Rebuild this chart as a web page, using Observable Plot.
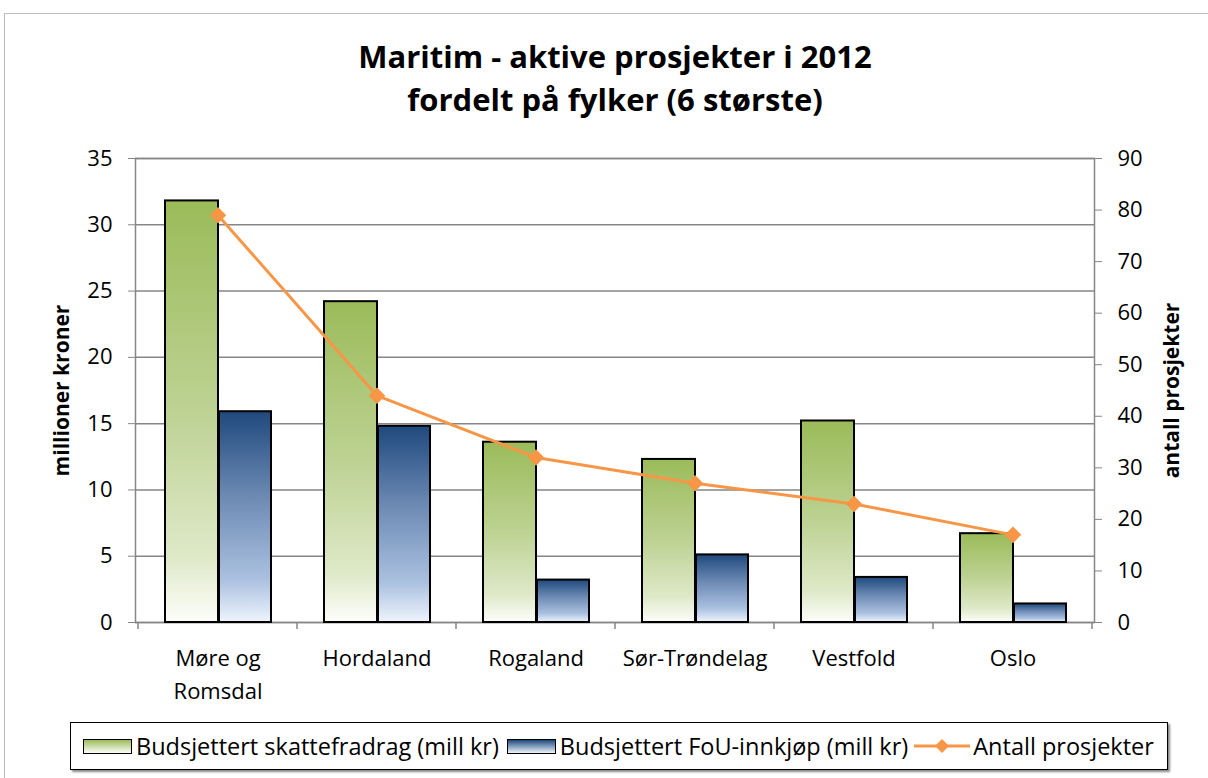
<!DOCTYPE html>
<html><head><meta charset="utf-8">
<script src="https://cdn.jsdelivr.net/npm/d3@7"></script>
<script src="https://cdn.jsdelivr.net/npm/@observablehq/plot@0.6"></script>
<style>
body{margin:0;background:#fff;font-family:"Open Sans",sans-serif;color:#000;width:1208px;height:778px;overflow:hidden;position:relative;}
#frame{position:absolute;left:4px;top:13px;width:1400px;height:1000px;border-left:1.5px solid #bcbcbc;border-top:1.5px solid #bcbcbc;}
#title{position:absolute;left:0;top:35px;width:1230px;text-align:center;font-weight:bold;font-size:31px;line-height:43px;}
#chart{position:absolute;left:0;top:140px;}
#legend{position:absolute;left:70px;top:722px;width:1096px;height:46px;border:1.5px solid #000;box-shadow:2px 2px 2px #888;display:flex;align-items:center;font-size:23.5px;white-space:nowrap;box-sizing:content-box;overflow:hidden;}
.sw{display:inline-block;width:47px;height:13px;border:1px solid #000;margin:0 4px 0 12px;}
.ln{display:inline-block;margin:0 3px 0 6px;}
</style>
</head><body>
<div id="frame"></div>
<div id="title">Maritim - aktive prosjekter i 2012<br>fordelt på fylker (6 største)</div>
<div id="chart"></div>
<div id="legend"></div>
<script>
const categories = ["Møre og Romsdal","Hordaland","Rogaland","Sør-Trøndelag","Vestfold","Oslo"];
const skattefradrag = [31.8,24.2,13.6,12.3,15.2,6.7];
const fouInnkjop = [15.9,14.8,3.2,5.1,3.4,1.4];
const antallProsjekter = [79,44,32,27,23,17];
const leftTicks = [0,5,10,15,20,25,30,35];
const rightTicks = [0,10,20,30,40,50,60,70,80,90];
const seriesNames = ["Budsjettert skattefradrag (mill kr)","Budsjettert FoU-innkjøp (mill kr)","Antall prosjekter"];
const leftLabel = "millioner kroner";
const rightLabel = "antall prosjekter";

const k = 35/90; // right axis (0–90) mapped on left axis (0–35)
const rows = categories.map((c,i)=>({c, s:skattefradrag[i], f:fouInnkjop[i], n:antallProsjekter[i]}));

const defs = () => {
  const d = d3.create("svg:defs");
  const g = d.append("linearGradient").attr("id","gGreen").attr("x1",0).attr("y1",0).attr("x2",0).attr("y2",1);
  [[0,"#9BBB59"],[0.5,"#BDD293"],[0.85,"#DFE9C9"],[1,"#FDFEFA"]].forEach(([o,c])=>g.append("stop").attr("offset",o).attr("stop-color",c));
  const b = d.append("linearGradient").attr("id","gBlue").attr("x1",0).attr("y1",0).attr("x2",0).attr("y2",1);
  [[0,"#1F497D"],[0.4,"#6B89B3"],[0.8,"#ABC1E0"],[1,"#EEF4FC"]].forEach(([o,c])=>b.append("stop").attr("offset",o).attr("stop-color",c));
  return d.node();
};

const separators = (index, scales) => {
  const {x, y} = scales;
  const bw = x.bandwidth();
  const y0 = y(0);
  const g = d3.create("svg:g").attr("stroke","#868686").attr("stroke-width",1.5);
  const xs = categories.map(c=>x(c)).concat([x(categories[categories.length-1])+bw]);
  xs.forEach(px=>g.append("line").attr("x1",px).attr("x2",px).attr("y1",y0).attr("y2",y0+7));
  return g.node();
};

const chart = Plot.plot({
  width:1208, height:562,
  marginTop:18, marginLeft:135, marginRight:114, marginBottom:80,
  style:{fontFamily:"'Open Sans', sans-serif", fontSize:"22px", color:"#000", background:"transparent", overflow:"visible"},
  x:{type:"band", domain:categories, padding:0},
  y:{domain:[0,35]},
  marks:[
    defs,
    Plot.gridY(leftTicks, {stroke:"#868686", strokeOpacity:1, strokeWidth:1.5}),
    Plot.frame({stroke:"#868686", strokeWidth:1.5}),
    separators,
    Plot.barY(rows, {x:"c", y:"s", fill:"url(#gGreen)", stroke:"#000", strokeWidth:2, insetLeft:27, insetRight:79}),
    Plot.barY(rows, {x:"c", y:"f", fill:"url(#gBlue)", stroke:"#000", strokeWidth:2, insetLeft:81, insetRight:26}),
    Plot.lineY(rows, {x:"c", y:d=>d.n*k, stroke:"#F79646", strokeWidth:3}),
    Plot.dot(rows, {x:"c", y:d=>d.n*k, symbol:"diamond2", fill:"#F79646", stroke:"#F79646", r:6.5}),
    Plot.axisY(leftTicks, {anchor:"left", tickSize:7, tickPadding:16, stroke:"#868686", label:null}),
    Plot.axisY(rightTicks.map(v=>v*k), {anchor:"right", tickSize:7, tickPadding:16, stroke:"#868686", tickFormat:v=>Math.round(v/k), label:null}),
    Plot.axisX({tickSize:0, tickPadding:20, label:null, lineHeight:1.5, tickFormat:d=>d.replace("og ","og\n")}),
    Plot.text([leftLabel], {frameAnchor:"left", rotate:-90, dx:-73, textAnchor:"middle", fontWeight:"bold", fontSize:21, text:d=>d}),
    Plot.text([rightLabel], {frameAnchor:"right", rotate:-90, dx:78, textAnchor:"middle", fontWeight:"bold", fontSize:21, text:d=>d})
  ]
});
document.getElementById("chart").append(chart);

const legend = d3.select("#legend");
legend.append("span").attr("class","sw").style("background","linear-gradient(#9BBB59,#FDFEFA)");
legend.append("span").text(seriesNames[0]);
legend.append("span").attr("class","sw").style("background","linear-gradient(#1F497D,#EEF4FC)").style("margin-left","8px");
legend.append("span").text(seriesNames[1]);
const ls = legend.append("svg").attr("class","ln").attr("width",56).attr("height",16);
ls.append("line").attr("x1",0).attr("x2",56).attr("y1",8).attr("y2",8).attr("stroke","#F79646").attr("stroke-width",3);
ls.append("path").attr("d","M28,1L35,8L28,15L21,8Z").attr("fill","#F79646");
legend.append("span").text(seriesNames[2]);
</script>
</body></html>
